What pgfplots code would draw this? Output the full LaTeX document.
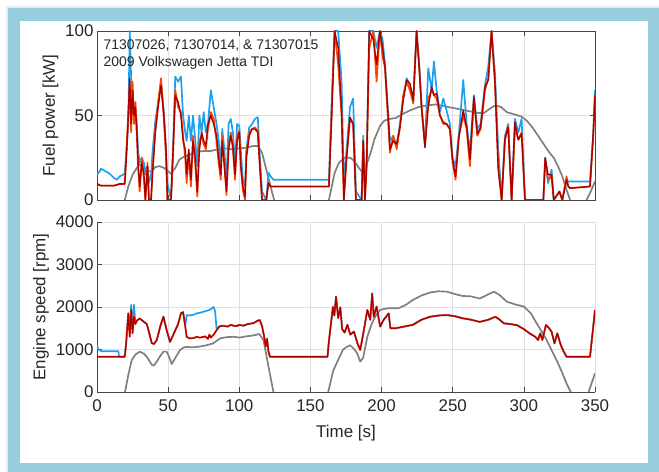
\documentclass[border=0pt]{standalone}
\usepackage{pgfplots}
\pgfplotsset{compat=1.18}
\usepackage{pgfplotstable}
\usepackage{fontspec}
\setmainfont{Liberation Sans}
\definecolor{frameblue}{RGB}{150,206,222}
\definecolor{cblue}{RGB}{30,160,240}
\definecolor{corange}{RGB}{255,70,0}
\definecolor{cdred}{RGB}{170,0,0}
\definecolor{cgray}{RGB}{128,128,128}
\definecolor{axgray}{RGB}{70,70,70}

\pgfplotstableread{
t b o r
0 15 10 10
1 16 9 9
3 18.5 8.5 8.5
6 17 8.5 8.5
9 15.5 8.5 8.5
12 13 8.5 8.5
14 12 9 9
16 14 9.5 9.5
19.5 15.5 9.5 9.5
21 33 35 30
22 45 52 50
23 100 68 72
24 72 40 45
25 60 70 65
26 55 45 50
27 55 58 55
28 45 38 40
29 28 18 20
30 22 5 8
31.5 25 25 22
33 22 12 15
34 15 0 0
35.5 20 22 20
36.5 10 0 0
38 15 0 0
39 28 18 15
41 47 42 40
43 58 58 55
45 69 72 68
47 52 48 50
48.5 30 25 30
49.5 10 0 0
52 0 0 0
53.5 32 28 30
55 73 65 62
57 70 55 58
59 73 52 50
60.5 50 38 35
62 40 25 30
63 35 10 15
64.5 50 28 30
66 35 8 12
67.5 50 38 35
69 36 22 25
70.5 20 2 5
72 50 35 30
73.5 40 38 40
75 52 33 35
76.5 40 30 32
78 45 42 45
80 65 52 50
82 55 48 45
84 45 35 38
85.5 35 22 25
87 20 12 15
88 42 38 35
89.5 30 22 20
91 10 3 5
92.5 45 32 30
94 48 40 38
95.5 40 30 32
97 22 12 15
98.5 45 38 35
100 44 41 40
101 30 22 20
102.5 12 6 8
104 8 0 2
105 30 28 25
107 43 40 38
109 45 42 42
111 48 43 42
113 49 41 40
114.5 25 18 20
116 5 0 0
119 0 0 0
120.5 16 10 10
122 14 8 8
124 12 8 8
161 12 8 8
163 12 8 8
165 60 55 50
167 100 100 100
169.5 100 80 90
171.9 70 50 53
173.5 10 0 0
175.4 30 25 25
177.8 55 48 49
180 60 45 45
182 5 0 0
186 0 0 0
187.1 38 35 35
188.3 5 0 0
189.5 25 20 20
191.3 100 90 100
194.2 100 100 95
196.5 90 70 80
198.8 100 100 100
200.7 95 85 90
202.4 80 78 79
204.7 50 45 49
205.9 35 28 30
208.2 38 38 35
210.6 32 30 33
212.9 45 43 43
215.2 60 62 59
217.6 72 70 71
219.9 68 65 69
222.3 60 57 59
224.6 100 100 100
226.5 80 78 78
228.1 55 55 55
230.5 33 32 31
232.8 78 60 55
235.2 65 65 67
236.8 82 62 62
238.7 65 60 63
241 52 50 50
243.4 60 45 46
245.7 53 45 45
248 45 42 42
249.9 25 22 24
252 20 12 14
254.4 40 38 37.5
257.4 71 50 53
259.8 45 42 43
262.1 28 20 24
264.9 62 60 61
267.3 42 38 39
269.6 45 42 43
272.7 68 65 67
275 79 72 71
277.3 100 100 100
279.7 75 70 69
282 30 20 18
284.4 0 0 0
286.7 38 36 35.5
289 45 44 43
291.4 0 0 0
293.7 48 42 46
296.1 40 36 35.5
298.4 48 40 39
300.8 0 0 0
313.7 0 0 0
315 25 24 25
317 10 12 15
319.5 18 14 15
321 0 0 0
325 5 5 5
327 0 0 0
330 12 14 12
331.2 11 8 8
332.5 11 7 7
346.5 11 8 8
348.8 40 38 40
350 65 62 62
}\toptab

\pgfplotstableread{
t g
19.5 0
22 8
25 15
28 19
30 21
33 20
35 17
38 17
41 19.5
44 20
47 19
50 17
52 15.5
55 19
58 24
62 26
66 27
70 28.5
75 29
80 29
85 30
90 30.5
95 30
100 30.5
105 31
110 32
113 32
116 28
119 18
122 8
124.5 0
130 nan
163 0
165 8
167 16
170 22
174 25
178 25
181 23
184 19
186 17
189 20
192 27
195 36
199 44
202 47
206 48
210 48.5
215 51
220 53
226 55
232 56
238 56.5
244 55.5
250 54.5
256 53.5
262 52.5
268 51.5
272 51.5
276 54
280 56
284 55
288 52
292 51
298 49.5
302 47
306 43
310 38
314 33
318 28
321 25
324 20
327 14
330 6
332.5 0
340 nan
344 0
347 5
350 11
}\topgray

\pgfplotstableread{
t b r
0 1100 830
1 1000 830
3 960 830
15 960 830
15.5 830 830
19.5 830 830
20.5 1150 1150
22 1850 1850
23 1400 1300
24 2050 1930
25 1500 1380
26 2050 1770
27 1600 1600
28 1680 1680
30 1730 1730
33 1650 1650
35 1600 1600
37 1350 1350
38.5 1150 1150
40 1130 1130
42 1220 1220
44.5 1550 1550
46.7 1770 1770
49 1450 1450
51.3 1180 1180
53 1300 1300
55 1450 1450
57 1600 1600
59 1850 1850
60.5 1880 1880
62 1550 1550
63 1810 1300
65 1800 1260
68 1820 1270
70 1850 1300
72 1860 1280
74 1880 1290
76 1900 1310
78 1920 1250
79 1930 1350
80 1950 1280
82 2000 1350
83 1900 1400
84 1500 1450
86 1540 1540
88 1560 1560
90 1550 1550
92 1540 1540
94 1580 1580
96 1560 1560
98 1550 1550
100 1580 1580
103 1560 1560
106 1600 1600
110 1620 1620
113 1680 1680
114.5 1690 1690
116 1550 1550
117.5 1300 1300
118.5 1070 1070
119.5 1250 1250
120.5 950 950
121.5 830 830
162 830 830
163 1200 1200
165.8 2000 2000
166.8 1800 1800
168 2240 2240
169.5 1740 1740
171 1990 1990
172.3 1480 1480
174 1400 1400
176 1580 1580
178 1350 1350
180.6 1420 1420
183 1150 1150
185 990 990
187 1350 1350
190 1930 1930
192 1700 1700
193.4 2320 2320
194.5 1770 1770
196.5 2010 2010
199 1540 1540
201.5 1700 1700
205 1850 1850
206.2 1500 1500
210 1500 1500
216 1540 1540
222 1580 1580
228 1700 1700
234 1770 1770
240 1800 1800
246 1810 1810
252 1780 1780
257 1735 1735
263 1700 1700
269 1650 1650
275 1700 1700
280 1770 1770
283 1700 1700
286 1615 1615
290 1600 1600
295 1575 1575
300 1480 1480
304 1380 1380
308 1300 1300
310 1225 1225
311.5 1380 1380
313 1225 1225
315.5 1575 1575
317 1530 1530
319.5 1420 1420
321.5 1145 1145
323.5 1380 1380
326 1100 1100
328 950 950
330 830 830
346.5 830 830
348 1300 1300
350 1930 1930
}\bottab

\pgfplotstableread{
t g
19.7 0
22 400
24.4 750
27 880
30 950
33 900
35 830
38.5 640
40 620
42 715
44.5 850
46.7 950
49 950
51 800
52.5 660
55 800
58.4 990
61 1050
63 1060
67 1050
72.4 1070
77 1100
81.7 1145
86.4 1260
91 1290
96 1300
100 1280
105 1310
110 1330
114 1365
117 1220
120.5 600
124 0
130 nan
162.5 0
166 500
170.5 830
173 1000
175 1050
178 1100
181 1000
183 900
185 715
187 800
190 1300
193 1600
196 1800
199 1930
204 1970
212 1970
217 2050
222 2165
228 2270
234 2340
240 2370
246 2360
252 2300
257 2260
263 2250
269 2200
274 2280
279 2360
283 2280
288 2125
294 2060
300 2010
305 1850
309 1615
313 1400
316 1225
320 950
323 750
327 450
330 200
333 0
340 nan
345.5 0
350 440
}\botgray

\pgfplotsset{
  mystyle/.style={
    scale only axis, width=498bp, xmin=0, xmax=350,
    grid=major, major grid style={color=black!12, line width=0.5pt},
    axis line style={axgray, line width=0.8pt, -},
    tick style={axgray, line width=0.6pt},
    tick align=inside, major tick length=5bp,
    ticklabel style={font=\fontsize{17}{17}\selectfont, text=black!85},
    /pgf/number format/assume math mode=true,
    /pgf/number format/1000 sep={},
    label style={font=\fontsize{17}{17}\selectfont, text=black!85},
    xtick={0,50,...,350}, scaled ticks=false,
    unbounded coords=jump,
    every axis plot/.append style={line width=1.7pt, line join=round},
  }
}

\begin{document}
\begin{tikzpicture}
\fill[white] (0bp,0bp) rectangle (659bp,472bp);
\fill[black!8] (6bp,0bp) rectangle (659bp,466bp);
\fill[frameblue] (8bp,0bp) rectangle (659bp,464bp);
\fill[white] (20bp,9bp) rectangle (648bp,451bp);

\begin{axis}[mystyle, at={(97bp,272bp)}, anchor=south west, height=169bp,
  ymin=0, ymax=100, ytick={0,50,100}, xticklabels={},
  ylabel={Fuel power [kW]}]
\addplot[cgray] table[x=t,y=g]{\topgray};
\addplot[cblue] table[x=t,y=b]{\toptab};
\addplot[corange] table[x=t,y=o]{\toptab};
\addplot[cdred, line width=1.4pt] table[x=t,y=r]{\toptab};
\node[anchor=north west, align=left, font=\fontsize{14}{17}\selectfont, text=black!85, inner sep=0pt]
  at (rel axis cs:0.013,0.95) {71307026, 71307014, \& 71307015\\2009 Volkswagen Jetta TDI};
\end{axis}

\begin{axis}[mystyle, at={(97bp,80bp)}, anchor=south west, height=170bp,
  ymin=0, ymax=4000, ytick={0,1000,2000,3000,4000},
  axis x line*=bottom, axis y line*=left,
  xticklabel style={yshift=-4bp},
  xlabel style={yshift=-7bp},
  xlabel={Time [s]}, ylabel={Engine speed [rpm]}]
\addplot[cgray] table[x=t,y=g]{\botgray};
\addplot[cblue] table[x=t,y=b]{\bottab};
\addplot[corange!70!red] table[x=t,y=r]{\bottab};
\addplot[cdred, line width=1.2pt] table[x=t,y=r]{\bottab};
\end{axis}
\end{tikzpicture}
\end{document}
